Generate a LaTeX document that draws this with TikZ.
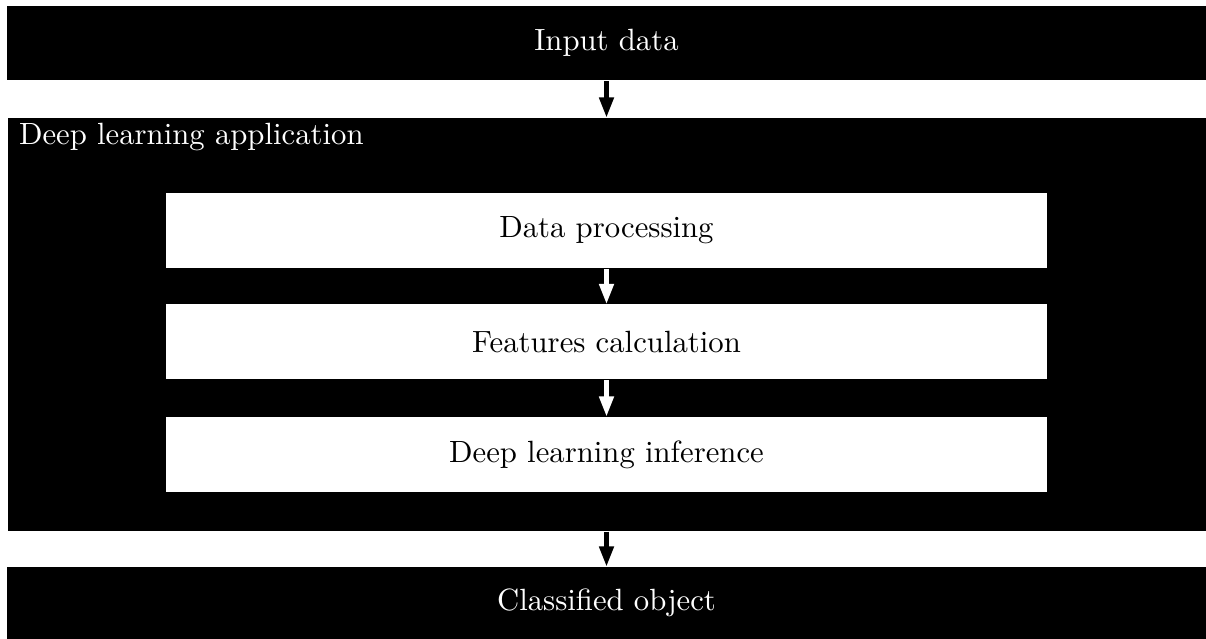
\documentclass[tikz,border=0pt]{standalone}
\usetikzlibrary{arrows.meta}
\begin{document}
\begin{tikzpicture}[x=0.345pt, y=-0.345pt,
  every node/.style={font=\fontsize{10.6pt}{12.7pt}\selectfont},
  blackbar/.style={fill=black, text=white, inner sep=0pt, minimum width=1199*0.345pt},
  stagebox/.style={fill=white, text=black, inner sep=0pt, minimum width=881*0.345pt, minimum height=75*0.345pt},
  flow/.style={line width=1.4pt, -{Triangle[width=4.9pt, length=6.9pt]}}]
  \useasboundingbox (0,0) rectangle (1206,639);
  % outer input / output bars
  \node[blackbar, minimum height=74.5*0.345pt] (input) at (606.5,43.25) {Input data};
  \node[fill=black, inner sep=0pt, minimum width=1198*0.345pt, minimum height=413*0.345pt] (app) at (607,324.5) {};
  \node[blackbar, minimum height=72*0.345pt] (output) at (606.5,603) {Classified object};
  \node[text=white, anchor=base west, inner sep=0pt] (applabel) at (18.5,145) {Deep learning application};
  % processing stages inside the application
  \node[stagebox] (proc) at (606.5,230.5) {Data processing};
  \node[stagebox] (feat) at (606.5,342) {Features calculation};
  \node[stagebox] (infer) at (606.5,454.5) {Deep learning inference};
  % connectors
  \draw[flow, black] (input.south) -- (input.south |- app.north);
  \draw[flow, white] (proc.south) -- (feat.north);
  \draw[flow, white] (feat.south) -- (infer.north);
  \draw[flow, black] (app.south -| output.north) -- (output.north);
\end{tikzpicture}
\end{document}
